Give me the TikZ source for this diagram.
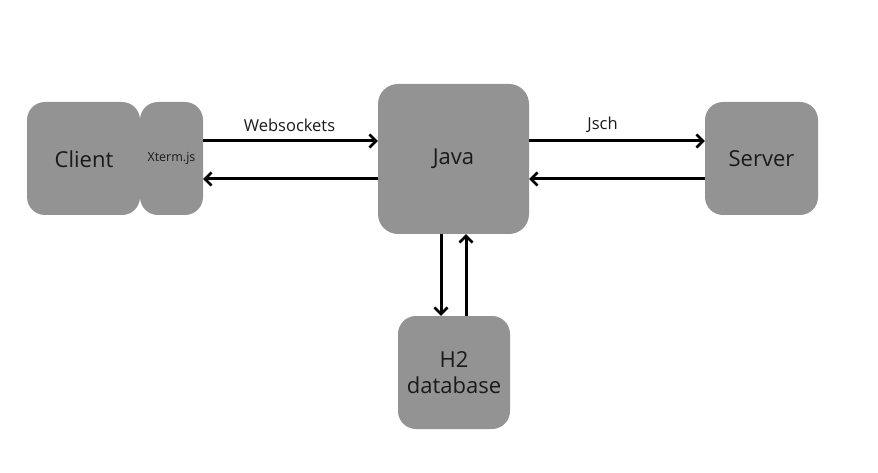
\documentclass[tikz,border=0pt]{standalone}
\usepackage{fontspec}
\setmainfont{Open Sans}
\usetikzlibrary{arrows.meta}
\definecolor{boxgray}{HTML}{939393}
\definecolor{txt}{HTML}{1A1A1A}
\tikzset{
  box/.style={fill=boxgray, draw=none, rounded corners=18pt, inner sep=0pt, text=txt, font=\fontsize{22}{26}\selectfont, align=center},
  conn/.style={line width=3pt, -{Straight Barb[length=6.5pt,width=13pt,line width=2.6pt]}},
  lbl/.style={text=txt, font=\fontsize{16.5}{20}\selectfont, inner sep=0pt}
}
\begin{document}
\begin{tikzpicture}[x=1pt,y=-1pt]
\useasboundingbox[fill=white] (0,0) rectangle (878,473);
\node[box, minimum width=113pt, minimum height=113pt] (client) at (83.5,158.5) {};
\node[txt, font=\fontsize{22}{26}\selectfont] (clientl) at (84,159.5) {Client};
\node[box, minimum width=63pt, minimum height=113pt, font=\fontsize{12.5}{15}\selectfont] (xterm) at (171.5,158.5) {Xterm.js};
\node[box, rounded corners=20pt, minimum width=151pt, minimum height=150pt] (java) at (453.5,159) {Java};
\node[box, minimum width=113pt, minimum height=113pt] (server) at (761.5,158.5) {Server};
\node[box, minimum width=112pt, minimum height=113pt, font=\fontsize{22}{26}\selectfont] (h2) at (454,372.5) {H2\\database};
\draw[conn] (xterm.east |- 0,141) -- (java.west |- 0,141);
\draw[conn] (java.west |- 0,179) -- (xterm.east |- 0,179);
\draw[conn] (java.east |- 0,141) -- (server.west |- 0,141);
\draw[conn] (server.west |- 0,179) -- (java.east |- 0,179);
\draw[conn] (java.south -| 441,0) -- (h2.north -| 441,0);
\draw[conn] (h2.north -| 466,0) -- (java.south -| 466,0);
\node[lbl] (ws) at (289.5,125) {Websockets};
\node[lbl] (jsch) at (602.5,125) {Jsch};
\end{tikzpicture}
\end{document}
